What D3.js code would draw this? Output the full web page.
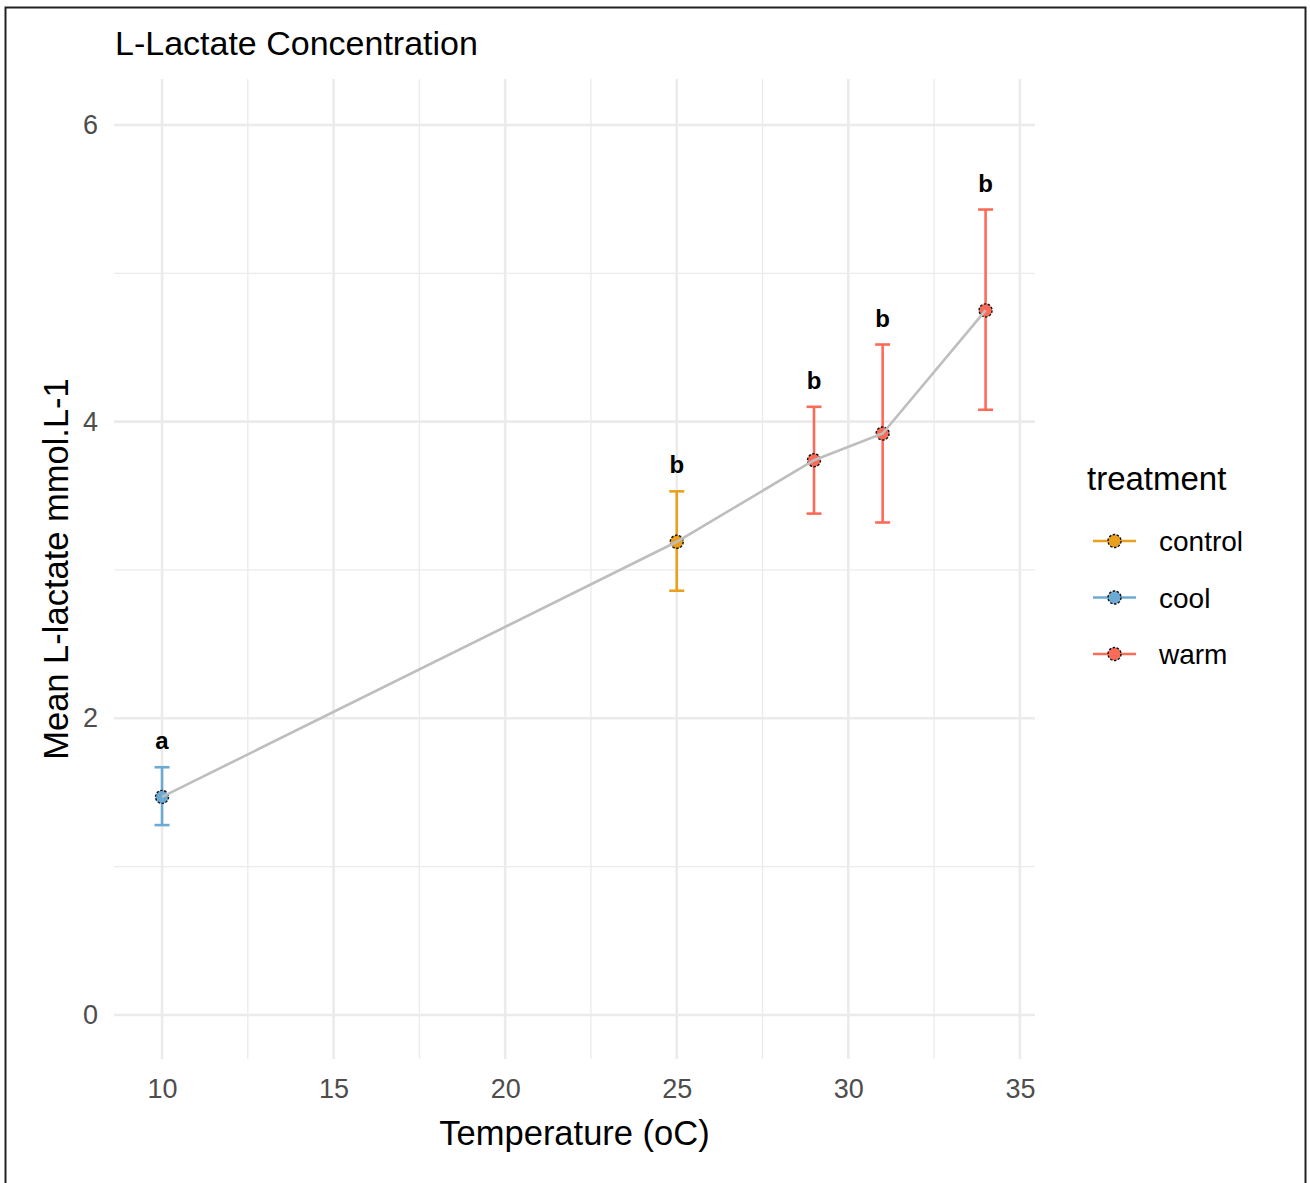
<!DOCTYPE html>
<html>
<head>
<script src="https://d3js.org/d3.v7.min.js"></script>
<style>
  body { margin: 0; background: #fff; }
  text { font-family: "Liberation Sans", Arial, sans-serif; }
  .grid line { stroke: #ebebeb; }
</style>
</head>
<body>
<div id="chart"></div>
<script>
// data
var temps     = [10, 25, 29, 31, 34];
var means     = [1.47, 3.19, 3.74, 3.92, 4.75];
var lowers    = [1.28, 2.86, 3.38, 3.32, 4.08];
var uppers    = [1.67, 3.53, 4.10, 4.52, 5.43];
var groups    = ["cool", "control", "warm", "warm", "warm"];
var letters   = ["a", "b", "b", "b", "b"];
var treatments = ["control", "cool", "warm"];
var colours    = ["#E9A01C", "#6DAAD3", "#FB6C58"];
var xTicks = [10, 15, 20, 25, 30, 35];
var yTicks = [0, 2, 4, 6];

var width = 1310, height = 1183;
var panel = {left: 114, right: 1035, top: 79, bottom: 1059};

var svg = d3.select("#chart").append("svg")
    .attr("width", width)
    .attr("height", height);

svg.append("rect")
    .attr("x", 5.5).attr("y", 7.5)
    .attr("width", 1300).attr("height", 1200)
    .attr("fill", "none").attr("stroke", "#222").attr("stroke-width", 2);

var x = d3.scaleLinear().domain([8.6, 35.44]).range([panel.left, panel.right]);
var y = d3.scaleLinear().domain([-0.297, 6.31]).range([panel.bottom, panel.top]);
var colour = d3.scaleOrdinal().domain(treatments).range(colours);

// grid
var grid = svg.append("g").attr("class", "grid");
var xMinor = d3.range(12.5, 35, 5);
var yMinor = [1, 3, 5];
grid.selectAll(".xm").data(xMinor).enter().append("line")
    .attr("x1", x).attr("x2", x).attr("y1", panel.top).attr("y2", panel.bottom)
    .attr("stroke-width", 1.3);
grid.selectAll(".ym").data(yMinor).enter().append("line")
    .attr("y1", y).attr("y2", y).attr("x1", panel.left).attr("x2", panel.right)
    .attr("stroke-width", 1.3);
grid.selectAll(".xM").data(xTicks).enter().append("line")
    .attr("x1", x).attr("x2", x).attr("y1", panel.top).attr("y2", panel.bottom)
    .attr("stroke-width", 2.6);
grid.selectAll(".yM").data(yTicks).enter().append("line")
    .attr("y1", y).attr("y2", y).attr("x1", panel.left).attr("x2", panel.right)
    .attr("stroke-width", 2.6);

// axes labels
var xAxis = d3.axisBottom(x).tickValues(xTicks).tickFormat(d3.format("d")).tickSize(0).tickPadding(20);
svg.append("g")
    .attr("transform", "translate(0," + panel.bottom + ")")
    .call(xAxis)
    .call(function(g) { g.select(".domain").remove(); })
    .selectAll("text")
    .attr("font-size", 27).attr("fill", "#4d4d4d")
    .attr("font-family", "Liberation Sans, Arial, sans-serif");

var yAxis = d3.axisLeft(y).tickValues(yTicks).tickFormat(d3.format("d")).tickSize(0).tickPadding(16);
svg.append("g")
    .attr("transform", "translate(" + panel.left + ",0)")
    .call(yAxis)
    .call(function(g) { g.select(".domain").remove(); })
    .selectAll("text")
    .attr("font-size", 27).attr("fill", "#4d4d4d")
    .attr("font-family", "Liberation Sans, Arial, sans-serif");

svg.append("text")
    .attr("x", (panel.left + panel.right) / 2).attr("y", 1145)
    .attr("text-anchor", "middle").attr("font-size", 34.5)
    .text("Temperature (oC)");

svg.append("text")
    .attr("transform", "translate(68," + (panel.top + panel.bottom) / 2 + ") rotate(-90)")
    .attr("text-anchor", "middle").attr("font-size", 34.5)
    .text("Mean L-lactate mmol.L-1");

svg.append("text")
    .attr("x", 115).attr("y", 55)
    .attr("font-size", 34)
    .text("L-Lactate Concentration");

// data
var data = temps.map(function(t, i) {
  return {t: t, m: means[i], lo: lowers[i], hi: uppers[i], g: groups[i], lab: letters[i]};
});

var bars = svg.append("g");
bars.selectAll(".eb").data(data).enter().append("line")
    .attr("x1", function(d) { return x(d.t); }).attr("x2", function(d) { return x(d.t); })
    .attr("y1", function(d) { return y(d.lo); }).attr("y2", function(d) { return y(d.hi); })
    .attr("stroke", function(d) { return colour(d.g); }).attr("stroke-width", 2.6);
["lo", "hi"].forEach(function(k) {
  bars.selectAll(".cap" + k).data(data).enter().append("line")
      .attr("x1", function(d) { return x(d.t) - 7.5; }).attr("x2", function(d) { return x(d.t) + 7.5; })
      .attr("y1", function(d) { return y(d[k]); }).attr("y2", function(d) { return y(d[k]); })
      .attr("stroke", function(d) { return colour(d.g); }).attr("stroke-width", 2.6);
});

svg.append("g").selectAll("circle").data(data).enter().append("circle")
    .attr("cx", function(d) { return x(d.t); })
    .attr("cy", function(d) { return y(d.m); })
    .attr("r", 6.5)
    .attr("fill", function(d) { return colour(d.g); })
    .attr("stroke", "#111").attr("stroke-width", 1.4)
    .attr("stroke-dasharray", "2.5,1.5");

var line = d3.line().x(function(d) { return x(d.t); }).y(function(d) { return y(d.m); });
svg.append("path").datum(data)
    .attr("d", line)
    .attr("fill", "none").attr("stroke", "#bebebe").attr("stroke-width", 2.6);

svg.append("g").selectAll("text").data(data).enter().append("text")
    .attr("x", function(d) { return x(d.t); })
    .attr("y", function(d) { return y(d.hi) - 18; })
    .attr("text-anchor", "middle").attr("font-weight", "bold").attr("font-size", 24)
    .text(function(d) { return d.lab; });

// legend
var legend = svg.append("g");
legend.append("text").attr("x", 1087).attr("y", 490).attr("font-size", 33).text("treatment");
var keys = legend.selectAll(".key").data(treatments).enter().append("g")
    .attr("transform", function(d, i) { return "translate(0," + (541 + i * 56.5) + ")"; });
keys.append("line").attr("x1", 1093).attr("x2", 1136).attr("y1", 0).attr("y2", 0)
    .attr("stroke", function(d) { return colour(d); }).attr("stroke-width", 2.6);
keys.append("circle").attr("cx", 1114.5).attr("cy", 0).attr("r", 6.5)
    .attr("fill", function(d) { return colour(d); })
    .attr("stroke", "#111").attr("stroke-width", 1.4).attr("stroke-dasharray", "2.5,1.5");
keys.append("text").attr("x", 1159).attr("y", 10).attr("font-size", 28).text(function(d) { return d; });
</script>
</body>
</html>
